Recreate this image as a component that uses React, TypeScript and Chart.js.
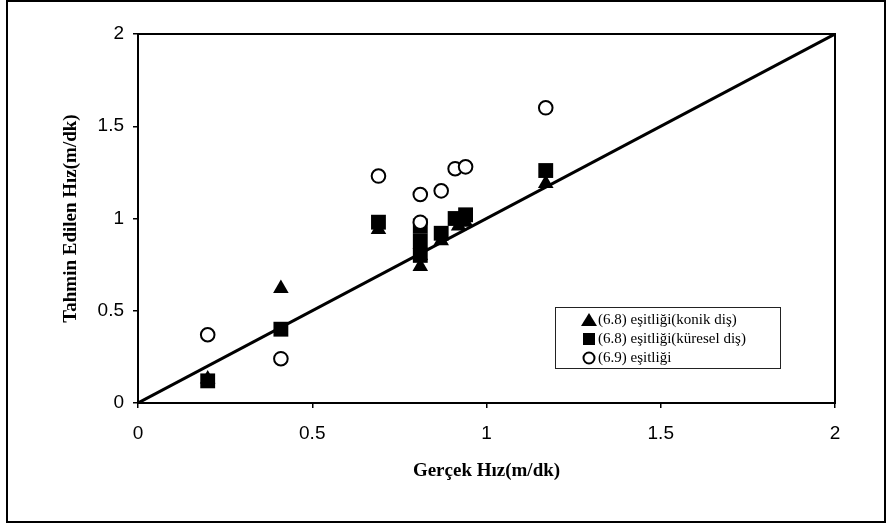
import React, { useEffect, useRef } from 'react';
import { Chart, registerables } from 'chart.js';

Chart.register(...registerables);

const xTicks = [0, 0.5, 1, 1.5, 2];
const xTickLabels = ['0', '0.5', '1', '1.5', '2'];
const yTicks = [0, 0.5, 1, 1.5, 2];
const yTickLabels = ['0', '0.5', '1', '1.5', '2'];

const seriesLabels = [
  '(6.8) eşitliği(konik diş)',
  '(6.8) eşitliği(küresel diş)',
  '(6.9) eşitliği',
];

const triX = [0.2, 0.41, 0.69, 0.81, 0.81, 0.81, 0.87, 0.92, 0.94, 1.17];
const triY = [0.13, 0.62, 0.94, 0.74, 0.8, 0.86, 0.88, 0.96, 0.98, 1.19];

const sqX = [0.2, 0.41, 0.69, 0.81, 0.81, 0.81, 0.87, 0.91, 0.94, 1.17];
const sqY = [0.12, 0.4, 0.98, 0.8, 0.88, 0.96, 0.92, 1.0, 1.02, 1.26];

const circX = [0.2, 0.41, 0.69, 0.81, 0.81, 0.87, 0.91, 0.94, 1.17];
const circY = [0.37, 0.24, 1.23, 1.13, 0.98, 1.15, 1.27, 1.28, 1.6];

const refLineX = [0, 2];
const refLineY = [0, 2];

const toPts = (xs: number[], ys: number[]) => xs.map((x, i) => ({ x, y: ys[i] }));

const SERIF = '"Liberation Serif", "Times New Roman", serif';
const SANS = 'Arial, "Liberation Sans", sans-serif';

export default function App() {
  const ref = useRef<HTMLCanvasElement>(null);

  useEffect(() => {
    const canvas = ref.current;
    if (!canvas) return;

    const framePlugin = {
      id: 'frameAndLegend',
      afterDraw(chart: any) {
        const { ctx, chartArea: a } = chart;
        ctx.save();
        ctx.strokeStyle = '#000';
        ctx.lineWidth = 2;
        ctx.strokeRect(a.left, a.top, a.right - a.left, a.bottom - a.top);

        // legend box
        const bx = 555, by = 307, bw = 225, bh = 61;
        ctx.fillStyle = '#fff';
        ctx.fillRect(bx, by, bw, bh);
        ctx.lineWidth = 1;
        ctx.strokeStyle = '#222';
        ctx.strokeRect(bx + 0.5, by + 0.5, bw, bh);

        const rows = [320, 339, 358];
        const mx = 589;
        ctx.font = `15px ${SERIF}`;
        ctx.textBaseline = 'middle';
        ctx.textAlign = 'left';
        rows.forEach((ry, i) => {
          ctx.fillStyle = '#000';
          ctx.strokeStyle = '#000';
          if (i === 0) {
            ctx.beginPath();
            ctx.moveTo(mx, ry - 7);
            ctx.lineTo(mx + 8, ry + 6);
            ctx.lineTo(mx - 8, ry + 6);
            ctx.closePath();
            ctx.fill();
          } else if (i === 1) {
            ctx.fillRect(mx - 6, ry - 6, 12, 12);
          } else {
            ctx.beginPath();
            ctx.lineWidth = 2;
            ctx.arc(mx, ry, 5.5, 0, Math.PI * 2);
            ctx.stroke();
          }
          ctx.fillStyle = '#000';
          ctx.fillText(seriesLabels[i], mx + 9, ry);
        });
        ctx.restore();
      },
    };

    const chart = new Chart(canvas, {
      type: 'scatter',
      data: {
        datasets: [
          {
            label: seriesLabels[2],
            data: toPts(circX, circY),
            pointStyle: 'circle',
            pointRadius: 6.8,
            pointBorderWidth: 2,
            pointBackgroundColor: '#fff',
            pointBorderColor: '#000',
            order: 0,
          },
          {
            label: seriesLabels[1],
            data: toPts(sqX, sqY),
            pointStyle: 'rect',
            pointRadius: 10.5,
            pointBorderWidth: 0,
            pointBackgroundColor: '#000',
            pointBorderColor: '#000',
            order: 1,
          },
          {
            label: seriesLabels[0],
            data: toPts(triX, triY),
            pointStyle: 'triangle',
            pointRadius: 9,
            pointBorderWidth: 0,
            pointBackgroundColor: '#000',
            pointBorderColor: '#000',
            order: 2,
          },
          {
            label: 'line',
            data: toPts(refLineX, refLineY),
            showLine: true,
            borderColor: '#000',
            borderWidth: 3,
            pointRadius: 0,
            order: 3,
          } as any,
        ],
      },
      options: {
        responsive: false,
        animation: false,
        devicePixelRatio: 1,
        layout: { padding: { left: 0, top: 34, right: 51, bottom: 0 } },
        plugins: {
          legend: { display: false },
          tooltip: { enabled: false },
        },
        scales: {
          x: {
            type: 'linear',
            min: 0,
            max: 2,
            afterBuildTicks: (s: any) => {
              s.ticks = xTicks.map((v) => ({ value: v }));
            },
            afterFit: (s: any) => {
              s.height = 123;
            },
            grid: {
              drawOnChartArea: false,
              drawTicks: true,
              tickLength: 5,
              color: '#000',
              lineWidth: 1.5,
            },
            border: { display: true, color: '#000', width: 2 },
            ticks: {
              color: '#000',
              padding: 14,
              font: { family: SANS, size: 19 },
              maxRotation: 0,
              callback: (_v: any, i: number) => xTickLabels[i],
            },
            title: {
              display: true,
              text: 'Gerçek Hız(m/dk)',
              color: '#000',
              font: { family: SERIF, size: 19, weight: 'bold' },
              padding: { top: 0, bottom: 44 },
            },
          },
          y: {
            type: 'linear',
            min: 0,
            max: 2,
            afterBuildTicks: (s: any) => {
              s.ticks = yTicks.map((v) => ({ value: v }));
            },
            afterFit: (s: any) => {
              s.width = 138;
            },
            grid: {
              drawOnChartArea: false,
              drawTicks: true,
              tickLength: 5,
              color: '#000',
              lineWidth: 1.5,
            },
            border: { display: true, color: '#000', width: 2 },
            ticks: {
              color: '#000',
              padding: 9,
              font: { family: SANS, size: 19 },
              callback: (_v: any, i: number) => yTickLabels[i],
            },
            title: {
              display: true,
              text: 'Tahmin Edilen Hız(m/dk)',
              color: '#000',
              font: { family: SERIF, size: 19, weight: 'bold' },
              padding: { top: 60, bottom: 0 },
            },
          },
        },
      },
      plugins: [framePlugin],
    } as any);

    return () => chart.destroy();
  }, []);

  return (
    <div style={{ position: 'absolute', left: 0, top: 0, width: 886, height: 526, background: '#fff' }}>
      <div
        style={{
          position: 'absolute',
          left: 6,
          top: 0,
          width: 876,
          height: 519,
          border: '2px solid #000',
        }}
      />
      <canvas
        ref={ref}
        width={886}
        height={526}
        style={{ position: 'absolute', left: 0, top: 0, width: 886, height: 526 }}
      />
    </div>
  );
}
